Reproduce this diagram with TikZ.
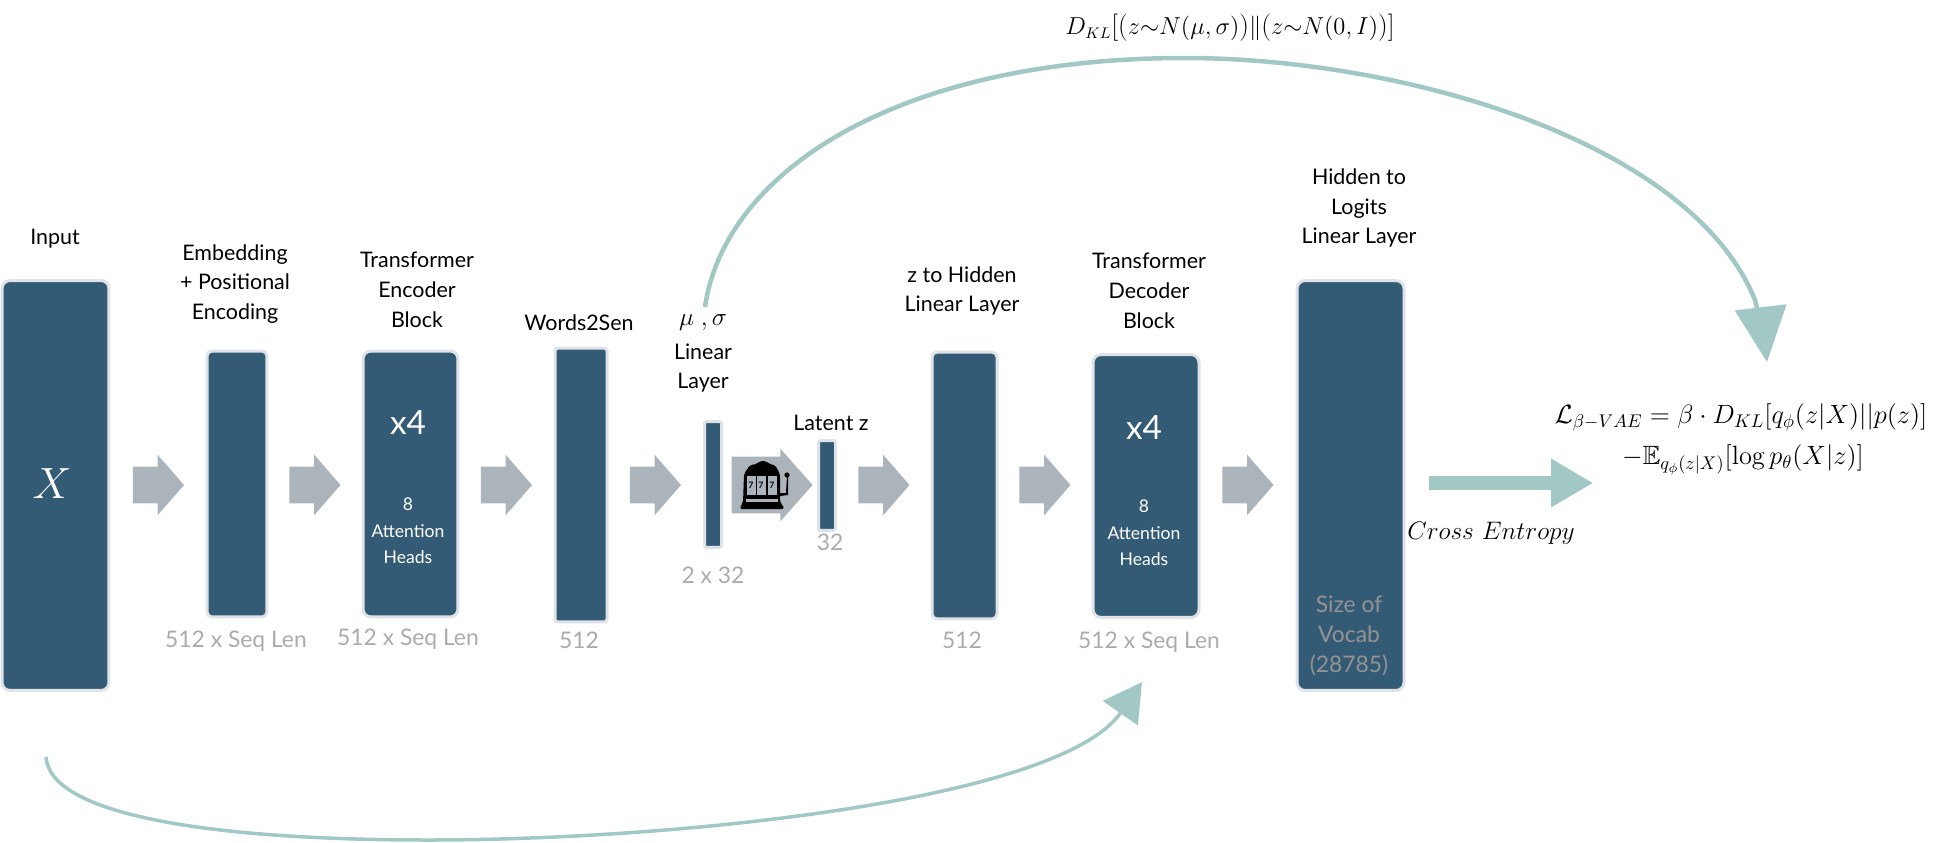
\documentclass[tikz,border=0pt]{standalone}
\usepackage{amsmath,amssymb,graphicx}
\usepackage{fontspec}
\usetikzlibrary{arrows.meta,shapes.arrows}
\newfontfamily\lato{Lato}
\definecolor{blockblue}{HTML}{345B75}
\definecolor{blockedge}{HTML}{DFE3E7}
\definecolor{flowgray}{HTML}{ABB4BB}
\definecolor{lossteal}{HTML}{A1C8C5}
\definecolor{dimgray}{HTML}{ABABAB}
\newcommand{\klfence}[1]{\text{\fontsize{16}{16}\selectfont#1}}
\tikzset{
    block/.style={draw=blockedge, fill=blockblue, line width=0.06cm, rounded corners=0.16cm, inner sep=0},
    flowarrow/.style={single arrow, fill=flowgray, inner xsep=0, inner ysep=0.36cm, minimum height=1.02cm,
        single arrow head extend=0.24cm, single arrow tip angle=98},
    title/.style={font=\lato\fontsize{12.2}{17}\selectfont, align=center, text=black},
    dimtext/.style={font=\lato\fontsize{13}{17}\selectfont, align=center, text=dimgray},
    inblock/.style={font=\lato\fontsize{10}{15}\selectfont, align=center, text=white},
    timestext/.style={font=\lato\fontsize{19}{19}\selectfont, text=white},
    losscurve/.style={draw=lossteal, line width=0.09cm},
}
\begin{document}
\begin{tikzpicture}[x=0.02cm, y=-0.02cm]
    \useasboundingbox (0,0) rectangle (1944,842);

    % Blocks
    \node[block, minimum width=2.14cm, minimum height=8.2cm] (input) at (55.5,485.5) {};
    \node[block, rounded corners=0.1cm, minimum width=1.2cm, minimum height=5.32cm] (embed) at (237,484) {};
    \node[block, minimum width=1.9cm, minimum height=5.32cm] (encoder) at (410.5,484) {};
    \node[block, rounded corners=0.06cm, minimum width=1.04cm, minimum height=5.48cm] (words) at (581,485) {};
    \node[block, rounded corners=0.03cm, minimum width=0.34cm, minimum height=2.52cm] (musigma) at (713,484.5) {};
    \node[block, rounded corners=0.03cm, minimum width=0.34cm, minimum height=1.8cm] (latent) at (827,485.5) {};
    \node[block, rounded corners=0.1cm, minimum width=1.3cm, minimum height=5.34cm] (hidden) at (964.5,485.5) {};
    \node[block, minimum width=2.12cm, minimum height=5.26cm] (decoder) at (1146,486) {};
    \node[block, minimum width=2.14cm, minimum height=8.2cm] (logits) at (1350.5,485.5) {};

    % Flow arrows
    \node[flowarrow] (flowa) at (150.5,485) {};
    \node[flowarrow] (flowb) at (307,485) {};
    \node[flowarrow] (flowc) at (498.5,485) {};
    \node[flowarrow] (flowd) at (647.5,485) {};
    \node[flowarrow, inner ysep=0.56cm, minimum height=1.62cm, single arrow head extend=0.16cm, single arrow tip angle=97] (flowe) at (759.5,485) {};
    \node[flowarrow] (flowf) at (876,485) {};
    \node[flowarrow] (flowg) at (1037,485) {};
    \node[flowarrow] (flowh) at (1240,485) {};

    % Slot machine
    \fill[black, rounded corners=0.04cm] (744,474) -- (750,465) -- (757,464) -- (760,461) -- (766,461) -- (769,464) -- (775,465) -- (780,474) -- (780,503) -- (783,505) -- (784,509) -- (740,509) -- (741,505) -- (743,503) -- cycle;
    \fill[black] (780,493) -- (786,493) -- (787,476) -- (788,476) -- (788,495) -- (780,496) -- cycle;
    \fill[black] (787,475) circle (2.6);
    \fill[flowgray] (746,499) rectangle (778,502);
    \foreach \slotx/\slotname in {751/slota, 761/slotb, 772/slotc} {
        \fill[flowgray] (\slotx-4.5,476) rectangle (\slotx+4.5,495);
        \node[font=\lato\bfseries\fontsize{5}{5}\selectfont, inner sep=0] (\slotname) at (\slotx,485) {7};
    }

    % Titles
    \node[title] (inputlabel) at (55,239) {Input};
    \node[title] (embedlabel) at (235,284) {Embedding\\+ Positional\\Encoding};
    \node[title] (encoderlabel) at (417,290) {Transformer\\Encoder\\Block};
    \node[title] (wordslabel) at (579,323) {Words2Sen};
    \node[title] (musigmalabel) at (703,323) {\fontsize{15}{15}\selectfont$\mu\ ,\sigma$};
    \node[title] (layerlabel) at (703,368) {Linear\\Layer};
    \node[title] (latentlabel) at (831,423) {Latent z};
    \node[title] (hiddenlabel) at (962,291) {z to Hidden\\Linear Layer};
    \node[title] (decoderlabel) at (1149,291) {Transformer\\Decoder\\Block};
    \node[title] (logitslabel) at (1359,208) {Hidden to\\Logits\\Linear Layer};

    % Text in blocks
    \node[font=\fontsize{34}{34}\selectfont, text=white] (xlabel) at (52,484) {$X$};
    \node[timestext] (encodertimes) at (408,423) {x4};
    \node[inblock] (encoderheads) at (408,531) {8\\Attention\\Heads};
    \node[timestext] (decodertimes) at (1144,428) {x4};
    \node[inblock] (decoderheads) at (1144,533) {8\\Attention\\Heads};
    \node[dimtext, text=gray!85] (vocablabel) at (1349,636) {Size of\\Vocab\\(28785)};

    % Sizes
    \node[dimtext] (embedsize) at (236,641) {512 x Seq Len};
    \node[dimtext] (encodersize) at (408,639) {512 x Seq Len};
    \node[dimtext] (wordssize) at (579,640) {512};
    \node[dimtext] (musigmasize) at (713,575) {2 x 32};
    \node[dimtext] (latentsize) at (830,542) {32};
    \node[dimtext] (hiddensize) at (962,640) {512};
    \node[dimtext] (decodersize) at (1149,642) {512 x Seq Len};

    % KL curve
    \coordinate (klstart) at (705,307);
    \coordinate (kltip) at (1767,362);
    \draw[losscurve, -{Triangle[length=1.1cm, width=1.02cm]}] (klstart) .. controls (725,170) and (900,58) .. (1185,58) .. controls (1400,58) and (1690,140) .. (1755,300) .. controls (1759,315) and (1765,345) .. (kltip);
    \node[font=\fontsize{13.5}{15}\selectfont] (kllabel) at (1230,28) {\scalebox{0.97}{$D_{KL}\klfence{[}\klfence{(}z{\sim}N(\mu,\sigma)\klfence{)}\Vert\klfence{(}z{\sim}N(0,I)\klfence{)}\klfence{]}$}};

    % Skip curve
    \coordinate (skipstart) at (46,757);
    \coordinate (skiptip) at (1142,682);
    \draw[losscurve, line width=0.07cm, -{Triangle[length=0.76cm, width=0.84cm]}] (skipstart) .. controls (50,815) and (210,840) .. (428,840) .. controls (680,840) and (1060,800) .. (skiptip);

    % Cross entropy
    \node[single arrow, fill=lossteal, inner xsep=0, inner ysep=0.13cm, minimum height=3.27cm, single arrow head extend=0.35cm, single arrow tip angle=61] (crossarrow) at (1505,483) {};
    \node[font=\fontsize{14}{16}\selectfont] (crosslabel) at (1491,533) {$Cross\ Entropy$};

    % Loss
    \node[font=\fontsize{14.4}{16}\selectfont] (lossa) at (1741,417) {\scalebox{1.045}{$\mathcal{L}_{\beta-VAE}=\beta\cdot D_{KL}[q_\phi(z|X)||p(z)]$}};
    \node[font=\fontsize{14.4}{16}\selectfont] (lossb) at (1743,460) {\scalebox{1.045}{$-\mathbb{E}_{q_\phi(z|X)}[\log p_\theta(X|z)]$}};
\end{tikzpicture}
\end{document}
